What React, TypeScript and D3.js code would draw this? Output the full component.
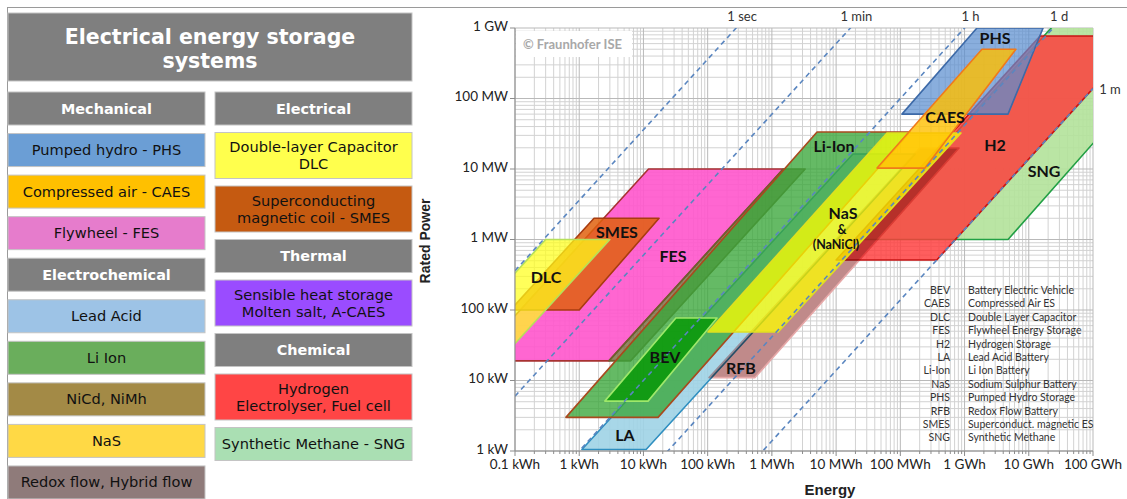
import React from "react";
import * as d3 from "d3";

// ---------- axes ----------
const energyTicks = [0.1, 1, 10, 100, 1e3, 1e4, 1e5, 1e6, 1e7, 1e8]; // kWh
const energyLabels = ["0.1 kWh", "1 kWh", "10 kWh", "100 kWh", "1 MWh", "10 MWh", "100 MWh", "1 GWh", "10 GWh", "100 GWh"];
const powerTicks = [1, 10, 100, 1e3, 1e4, 1e5, 1e6]; // kW
const powerLabels = ["1 kW", "10 kW", "100 kW", "1 MW", "10 MW", "100 MW", "1 GW"];

// discharge time lines (hours)
const durationNames = ["1 sec", "1 min", "1 h", "1 d", "1 m"];
const durationHours = [1 / 3600, 1 / 60, 1, 24, 720];

// ---------- operating ranges: [energy kWh, rated power kW] ----------
const sngRange = [[2.3e7, 1.03e6], [4e9, 1.03e6], [4.75e6, 1.0e3], [2.27e4, 1.0e3]];
const h2Range = [[1.5e7, 7.7e5], [5.55e8, 7.7e5], [3.69e5, 512], [1.0e4, 512]];
const phsRange = [[1.56e6, 1e6], [1.67e7, 1e6], [4.75e6, 6.0e4], [1.06e5, 6.0e4]];
const fesRange = [[12, 1e4], [1500, 1e4], [2.9, 19], [0.023, 19]];
const nicdRange = [[1500, 1e4], [3300, 1e4], [6.3, 19], [2.9, 19]];
const laRange = [[1.83e4, 1.63e4], [1.71e5, 1.63e4], [11, 1.05], [1.1, 1.05]];
const liIonRange = [[5050, 3.35e4], [1.42e5, 3.35e4], [16.9, 3], [0.62, 3]];
const bevRange = [[32, 77], [140, 77], [11.8, 5.1], [2.5, 5.1]];
const rfbRange = [[2.02e5, 1.99e4], [8.2e5, 1.99e4], [546, 11], [105, 11]];
const nasRange = [[6.2e4, 3.24e4], [8.8e5, 3.24e4], [1250, 48.7], [101, 48.7]];
const caesRange = [[1.87e6, 5.0e5], [6.3e6, 5.0e5], [2.42e5, 1.03e4], [4.34e4, 1.03e4]];
const smesRange = [[1.7, 2000], [17.5, 2000], [1.0, 100], [0.085, 100]];
const dlcRange = [[0.3, 1000], [3, 1000], [0.03, 10], [0.003, 10]];

// drawing order, bottom to top
const layers = [
  { pts: sngRange, fill: "#b3e29a", stroke: "#22a045", op: 0.9 },
  { pts: h2Range, fill: "#ff3b3b", stroke: "#c81414", op: 0.82 },
  { pts: phsRange, fill: "#5b8fd0", stroke: "#3d6aa8", op: 0.72 },
  { pts: fesRange, fill: "#ff55cc", stroke: "#a83232", op: 0.9 },
  { pts: nicdRange, fill: "#6e6030", stroke: "#6e6030", op: 0.75 },
  { pts: laRange, fill: "#9fd3e6", stroke: "#2f8fc0", op: 0.9 },
  { pts: liIonRange, fill: "#3aa63a", stroke: "#a84a1e", op: 0.78 },
  { pts: bevRange, fill: "#0a980a", stroke: "#9ee86a", op: 0.88 },
  { pts: rfbRange, fill: "#c08a8a", stroke: "#e6a8a8", op: 1, blend: "multiply" },
  { pts: nasRange, fill: "#ffff00", stroke: "#e0e020", op: 0.75 },
  { pts: caesRange, fill: "#ffbf00", stroke: "#f07a1a", op: 0.8 },
  { pts: smesRange, fill: "#e0620e", stroke: "#a83c10", op: 0.85 },
  { pts: dlcRange, fill: "#ffff1a", stroke: "#b6e05a", op: 0.72 },
];

// label anchors [energy kWh, power kW]
const regionLabels = [
  { t: "PHS", at: [2.98e6, 7.2e5] },
  { t: "CAES", at: [4.97e5, 5.47e4] },
  { t: "H2", at: [2.98e6, 2.19e4] },
  { t: "SNG", at: [1.73e7, 9370] },
  { t: "Li-Ion", at: [9270, 2.12e4] },
  { t: "NaS", at: [1.28e4, 2377] },
  { t: "&", at: [1.24e4, 1365], small: true },
  { t: "(NaNiCl)", at: [9950, 863], small: true },
  { t: "SMES", at: [3.87, 1277] },
  { t: "DLC", at: [0.304, 294] },
  { t: "FES", at: [28.8, 583] },
  { t: "BEV", at: [21.7, 21.5] },
  { t: "RFB", at: [330, 15] },
  { t: "LA", at: [5.16, 1.69] },
];

const abbrevs = ["BEV", "CAES", "DLC", "FES", "H2", "LA", "Li-Ion", "NaS", "PHS", "RFB", "SMES", "SNG"];
const meanings = [
  "Battery  Electric Vehicle", "Compressed Air ES", "Double Layer Capacitor", "Flywheel  Energy Storage",
  "Hydrogen Storage", "Lead Acid Battery", "Li Ion Battery", "Sodium Sulphur Battery",
  "Pumped Hydro Storage", "Redox Flow  Battery", "Superconduct. magnetic ES", "Synthetic Methane",
];

// ---------- overview table ----------
const leftColumn = [
  { lines: ["Mechanical"], header: true },
  { lines: ["Pumped hydro - PHS"], color: "#6b9ed5" },
  { lines: ["Compressed air - CAES"], color: "#ffc000" },
  { lines: ["Flywheel - FES"], color: "#e67ccc" },
  { lines: ["Electrochemical"], header: true },
  { lines: ["Lead Acid"], color: "#9dc3e6" },
  { lines: ["Li Ion"], color: "#6aae5c" },
  { lines: ["NiCd, NiMh"], color: "#a38a46" },
  { lines: ["NaS"], color: "#ffd945" },
  { lines: ["Redox flow, Hybrid flow"], color: "#8f7b7a" },
];
const rightColumn = [
  { lines: ["Electrical"], header: true },
  { lines: ["Double-layer Capacitor", "DLC"], color: "#ffff4d" },
  { lines: ["Superconducting", "magnetic coil - SMES"], color: "#c55a11" },
  { lines: ["Thermal"], header: true },
  { lines: ["Sensible heat storage", "Molten salt, A-CAES"], color: "#9a4cff" },
  { lines: ["Chemical"], header: true },
  { lines: ["Hydrogen", "Electrolyser, Fuel cell"], color: "#ff4545" },
  { lines: ["Synthetic Methane - SNG"], color: "#aadfb3" },
];

const PANEL_FONT = "'DejaVu Sans', Verdana, sans-serif";
const CHART_FONT = "Lato, 'Open Sans', sans-serif";

function Column({ items, x, width, top, gap }: any) {
  let cy = top;
  return (
    <g>
      {items.map((it: any, i: number) => {
        const h = it.lines.length > 1 ? 46 : 33;
        const y0 = cy;
        cy += h + gap;
        const mid = y0 + h / 2;
        return (
          <g key={i}>
            <rect x={x} y={y0} width={width} height={h} fill={it.header ? "#7f7f7f" : it.color} stroke="#c4c4c4" strokeWidth={1} />
            {it.lines.map((t: string, j: number) => (
              <text
                key={j}
                x={x + width / 2}
                y={mid + (j - (it.lines.length - 1) / 2) * 17 + 5}
                textAnchor="middle"
                fontFamily={PANEL_FONT}
                fontSize={it.header ? 14.4 : 14.6}
                fontWeight={it.header ? "bold" : "normal"}
                fill={it.header ? "#ffffff" : "#111111"}
              >
                {t}
              </text>
            ))}
          </g>
        );
      })}
    </g>
  );
}

export default function App() {
  const W = 1127;
  const H = 499;
  const x = d3.scaleLog().domain([energyTicks[0], energyTicks[energyTicks.length - 1]]).range([515, 1093]);
  const y = d3.scaleLog().domain([powerTicks[0], powerTicks[powerTicks.length - 1]]).range([451, 28]);
  const [x0, x1] = x.range();
  const [yBottom, yTop] = y.range();
  const [eMin, eMax] = x.domain();
  const [pMin, pMax] = y.domain();

  const line = d3.line<number[]>().x((d) => x(d[0])).y((d) => y(d[1]));
  const poly = (pts: number[][]) => line(pts) + "Z";

  const minorE = energyTicks.slice(0, -1).flatMap((v) => d3.range(2, 10).map((k) => v * k));
  const minorP = powerTicks.slice(0, -1).flatMap((v) => d3.range(2, 10).map((k) => v * k));

  return (
    <>
      <style>{`body{margin:0;background:#fff}`}</style>
      <svg width={W} height={H} style={{ display: "block" }}>
        <defs>
          <clipPath id="plot">
            <rect x={x0} y={yTop} width={x1 - x0} height={yBottom - yTop} />
          </clipPath>
        </defs>
        <rect width={W} height={H} fill="#ffffff" />

        {/* frame */}
        <line x1={7} x2={W} y1={7.5} y2={7.5} stroke="#9a9a9a" />
        <line x1={7.5} x2={7.5} y1={7} y2={H} stroke="#9a9a9a" />

        {/* overview table */}
        <rect x={8} y={13} width={404} height={68} fill="#7f7f7f" stroke="#c4c4c4" />
        <text x={210} y={43.5} textAnchor="middle" fontFamily={PANEL_FONT} fontWeight="bold" fontSize={20.5} fill="#fff">
          Electrical energy storage
        </text>
        <text x={210} y={68} textAnchor="middle" fontFamily={PANEL_FONT} fontWeight="bold" fontSize={20.5} fill="#fff">
          systems
        </text>
        <Column items={leftColumn} x={8} width={197} top={92} gap={8.55} />
        <Column items={rightColumn} x={215} width={197} top={92} gap={7.5} />

        {/* grid */}
        <g stroke="#d2d2d2" strokeWidth={1}>
          {minorE.map((v, i) => (
            <line key={"ve" + i} x1={x(v)} x2={x(v)} y1={yTop} y2={yBottom} />
          ))}
          {minorP.map((v, i) => (
            <line key={"hp" + i} x1={x0} x2={x1} y1={y(v)} y2={y(v)} />
          ))}
        </g>
        <g stroke="#b9b9b9" strokeWidth={1}>
          {energyTicks.map((v, i) => (
            <line key={"VE" + i} x1={x(v)} x2={x(v)} y1={yTop} y2={yBottom} />
          ))}
          {powerTicks.map((v, i) => (
            <line key={"HP" + i} x1={x0} x2={x1} y1={y(v)} y2={y(v)} />
          ))}
        </g>

        {/* technology ranges */}
        <g clipPath="url(#plot)">
          {layers.map((l, i) => (
            <path
              key={i}
              d={poly(l.pts)}
              fill={l.fill}
              fillOpacity={l.op}
              stroke={l.stroke}
              strokeWidth={1.6}
              strokeLinejoin="round"
              style={l.blend ? { mixBlendMode: l.blend as any } : undefined}
            />
          ))}
          {/* discharge time lines */}
          {durationHours.map((t, i) => (
            <path
              key={"d" + i}
              d={line([[eMin, eMin / t], [eMax, eMax / t]]) || ""}
              stroke="#5a86c0"
              strokeWidth={1.6}
              strokeDasharray="5,4"
              fill="none"
            />
          ))}
        </g>

        {/* copyright box */}
        <rect x={516} y={31} width={116} height={26} fill="#ffffff" />
        <text x={523} y={49} fontFamily={CHART_FONT} fontWeight="bold" fontSize={13} fill="#a8a8a8">
          © Fraunhofer ISE
        </text>

        {/* duration labels */}
        {durationHours.map((t, i) => {
          const eTop = pMax * t;
          const atTop = eTop <= eMax;
          const lx = atTop ? x(eTop) + 6 : x1 + 17;
          const ly = atTop ? 21 : y(eMax / t) + 6;
          return (
            <text key={"dl" + i} x={lx} y={ly} textAnchor="middle" fontFamily={CHART_FONT} fontSize={13} fill="#333">
              {durationNames[i]}
            </text>
          );
        })}

        {/* region labels */}
        {regionLabels.map((r, i) => (
          <text
            key={"rl" + i}
            x={x(r.at[0])}
            y={y(r.at[1])}
            dy="0.36em"
            textAnchor="middle"
            fontFamily={CHART_FONT}
            fontWeight="bold"
            fontSize={r.small ? 12.5 : 16}
            fill="#111"
          >
            {r.t}
          </text>
        ))}

        {/* abbreviation list */}
        {abbrevs.map((a, i) => (
          <g key={"ab" + i} fontFamily={CHART_FONT} fontSize={10.5} fill="#333">
            <text x={950} y={294 + i * 13.4} textAnchor="end">{a}</text>
            <text x={968} y={294 + i * 13.4}>{meanings[i]}</text>
          </g>
        ))}

        {/* axes */}
        <line x1={x0} x2={x0} y1={yTop} y2={yBottom} stroke="#8c8c8c" />
        <line x1={x0} x2={x1} y1={yBottom} y2={yBottom} stroke="#8c8c8c" />
        {powerTicks.map((v, i) => (
          <g key={"yt" + i}>
            <line x1={x0 - 5} x2={x0} y1={y(v)} y2={y(v)} stroke="#8c8c8c" />
            <text x={x0 - 7} y={y(v)} dy="0.2em" textAnchor="end" fontFamily={CHART_FONT} fontSize={13.5} fill="#222">
              {powerLabels[i]}
            </text>
          </g>
        ))}
        {minorE.map((v, i) => (
          <line key={"xm" + i} x1={x(v)} x2={x(v)} y1={yBottom} y2={yBottom + 3} stroke="#8c8c8c" />
        ))}
        {energyTicks.map((v, i) => (
          <g key={"xt" + i}>
            <line x1={x(v)} x2={x(v)} y1={yBottom} y2={yBottom + 5} stroke="#8c8c8c" />
            <text x={x(v)} y={469} textAnchor="middle" fontFamily={CHART_FONT} fontSize={13.5} fill="#222">
              {energyLabels[i]}
            </text>
          </g>
        ))}
        <text x={830} y={495} textAnchor="middle" fontFamily="'Liberation Sans', Arial, sans-serif" fontWeight="bold" fontSize={15} fill="#222">
          Energy
        </text>
        <text
          transform="translate(430,241) rotate(-90)"
          textAnchor="middle"
          fontFamily="'Liberation Sans', Arial, sans-serif"
          fontWeight="bold"
          fontSize={14}
          fill="#222"
        >
          Rated Power
        </text>
      </svg>
    </>
  );
}
